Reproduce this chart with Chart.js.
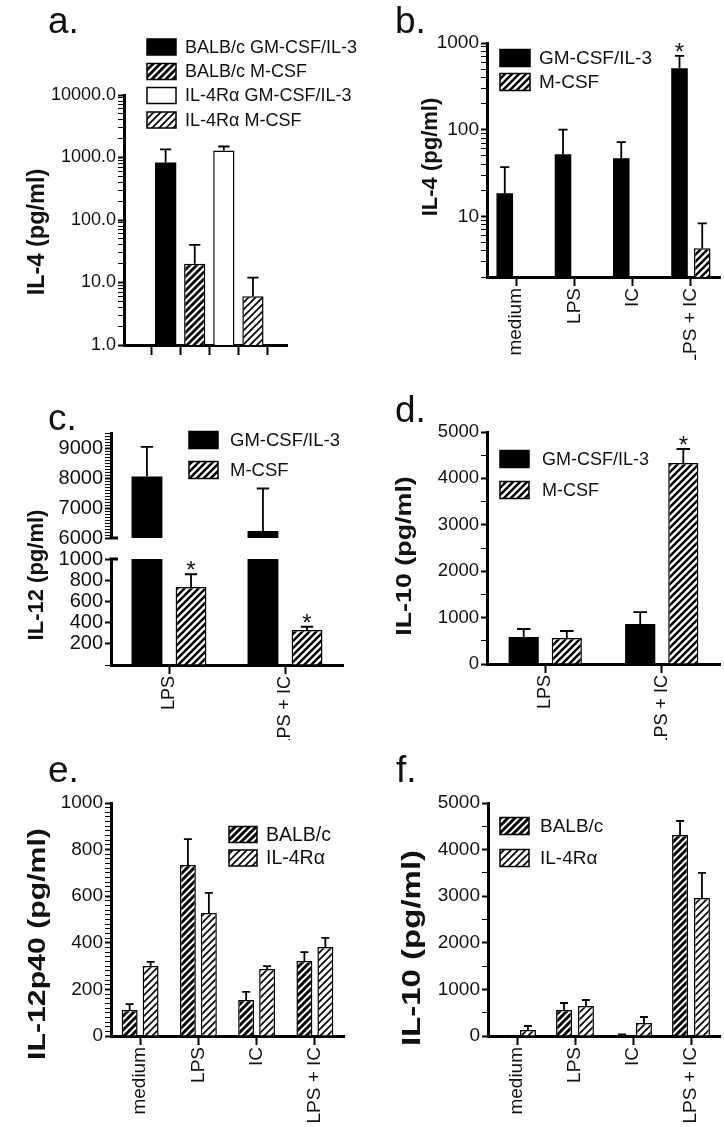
<!DOCTYPE html>
<html><head><meta charset="utf-8">
<script src="https://cdn.jsdelivr.net/npm/chart.js@4.4.1/dist/chart.umd.min.js"></script>
<style>
html,body{margin:0;padding:0;background:#fff}
body{width:724px;height:1127px;position:relative;overflow:hidden;font-family:Arial,"Liberation Sans",Helvetica,sans-serif}
canvas{position:absolute}
.lbl{position:absolute;font-size:37px;line-height:1;color:#111;z-index:5}
</style></head><body>
<canvas id="ca" width="362" height="360" style="left:0;top:0"></canvas>
<canvas id="cb" width="362" height="360" style="left:362px;top:0"></canvas>
<canvas id="cc1" width="362" height="200" style="left:0;top:360px"></canvas>
<canvas id="cc2" width="362" height="240" style="left:0;top:500px"></canvas>
<canvas id="cd" width="362" height="380" style="left:362px;top:360px"></canvas>
<canvas id="ce" width="362" height="387" style="left:0;top:740px"></canvas>
<canvas id="cf" width="362" height="387" style="left:362px;top:740px"></canvas>
<div class="lbl" style="left:48px;top:2px">a.</div>
<div class="lbl" style="left:395px;top:2px">b.</div>
<div class="lbl" style="left:48px;top:399px">c.</div>
<div class="lbl" style="left:395px;top:391px">d.</div>
<div class="lbl" style="left:48px;top:751px">e.</div>
<div class="lbl" style="left:396px;top:751px">f.</div>
<script>
// ---------------- DATA ----------------
// a. IL-4 (log)
const aCategories = ['BALB/c GM-CSF/IL-3', 'BALB/c M-CSF', 'IL-4R\u03b1 GM-CSF/IL-3', 'IL-4R\u03b1 M-CSF'];
const aValues = [830, 20, 1290, 6];
const aErrors = [520, 20, 210, 6];
const aTicks = [1, 10, 100, 1000, 10000];

// b. IL-4 (log)
const bCategories = ['medium', 'LPS', 'IC', 'LPS + IC'];
const bGM = [18.5, 52, 47, 510];
const bGMErr = [18.5, 48, 25, 200];
const bGMSig = [false, false, false, true];
const bM = [null, null, null, 4.3];
const bMErr = [null, null, null, 4.0];
const bTicks = [10, 100, 1000];

// c. IL-12 (broken axis)
const cCategories = ['LPS', 'LPS + IC'];
const cGM = [8050, 6230];
const cGMErr = [990, 1420];
const cM = [736, 331];
const cMErr = [120, 30];
const cMSig = [true, true];
const cTicksUpper = [6000, 7000, 8000, 9000];
const cTicksLower = [200, 400, 600, 800, 1000];

// d. IL-10
const dCategories = ['LPS', 'LPS + IC'];
const dGM = [582, 862];
const dGMErr = [172, 258];
const dM = [560, 4332];
const dMErr = [151, 302];
const dMSig = [false, true];
const dTicks = [0, 1000, 2000, 3000, 4000, 5000];

// e. IL-12p40
const eCategories = ['medium', 'LPS', 'IC', 'LPS + IC'];
const eBALB = [112, 734, 155, 322];
const eBALBErr = [25, 111, 34, 38];
const eIL4R = [300, 528, 288, 382];
const eIL4RErr = [18, 86, 12, 39];
const eTicks = [0, 200, 400, 600, 800, 1000];

// f. IL-10
const fCategories = ['medium', 'LPS', 'IC', 'LPS + IC'];
const fBALB = [5, 558, 25, 4313];
const fBALBErr = [0, 150, 10, 301];
const fIL4R = [130, 644, 280, 2960];
const fIL4RErr = [85, 129, 128, 540];
const fTicks = [0, 1000, 2000, 3000, 4000, 5000];

// ---------------- SETUP ----------------
const FONT = 'Arial, "Liberation Sans", Helvetica, sans-serif';
Chart.defaults.font.family = FONT;
Chart.defaults.color = '#111';
Chart.defaults.animation = false;
Chart.defaults.events = [];
Chart.defaults.plugins.legend.display = false;
Chart.defaults.plugins.tooltip.enabled = false;

function makeHatch(ctx, lw) {
  const p = 7;
  const t = document.createElement('canvas'); t.width = p; t.height = p;
  const g = t.getContext('2d');
  g.fillStyle = '#fff'; g.fillRect(0, 0, p, p);
  g.strokeStyle = '#000'; g.lineWidth = lw;
  g.beginPath();
  g.moveTo(-1, p + 1); g.lineTo(p + 1, -1);
  g.moveTo(-p / 2 - 1, p / 2 + 1); g.lineTo(p / 2 + 1, -p / 2 - 1);
  g.moveTo(p / 2 - 1, 1.5 * p + 1); g.lineTo(1.5 * p + 1, p / 2 - 1);
  g.stroke();
  return ctx.createPattern(t, 'repeat');
}

const errorBars = {
  id: 'errorBars',
  afterDatasetsDraw(chart, args, o) {
    const c = chart.ctx, a = chart.chartArea;
    const capR = (o && o.cap) || 0.5;
    chart.data.datasets.forEach((ds, i) => {
      if (!ds.errors) return;
      const meta = chart.getDatasetMeta(i);
      const ys = chart.scales[meta.yAxisID];
      meta.data.forEach((el, j) => {
        const raw = ds.data[j];
        const v = raw && typeof raw === 'object' ? raw.y : raw;
        const e = ds.errors[j];
        if (v == null || e == null) return;
        const yt = ys.getPixelForValue(v + e);
        if (e > 0) {
          c.save();
          c.beginPath(); c.rect(0, a.top - 2, chart.width, a.bottom - a.top + 2); c.clip();
          c.strokeStyle = '#000'; c.lineWidth = 1.8;
          const hw = el.width * capR / 2;
          c.beginPath();
          c.moveTo(el.x, el.y); c.lineTo(el.x, yt);
          c.moveTo(el.x - hw, yt); c.lineTo(el.x + hw, yt);
          c.stroke();
          c.restore();
        }
        if (ds.sig && ds.sig[j] && yt >= a.top - 2 && yt <= a.bottom) {
          c.save(); c.fillStyle = '#111'; c.font = '24px ' + FONT;
          c.textAlign = 'center'; c.textBaseline = 'alphabetic';
          c.fillText('*', el.x, yt + 4); c.restore();
        }
      });
    });
  }
};

const boxLegend = {
  id: 'boxLegend',
  afterDraw(chart, args, o) {
    if (!o || !o.ys) return;
    const c = chart.ctx;
    c.save();
    chart.data.datasets.forEach((d, i) => {
      const y = o.ys[i];
      if (y == null) return;
      c.fillStyle = d.backgroundColor;
      c.fillRect(o.x, y - o.h / 2, o.w, o.h);
      c.lineWidth = 1.5; c.strokeStyle = '#000';
      c.strokeRect(o.x, y - o.h / 2, o.w, o.h);
      c.fillStyle = '#111'; c.font = o.size + 'px ' + FONT;
      c.textAlign = 'left'; c.textBaseline = 'middle';
      c.fillText(d.label, o.textX, y + 1);
    });
    c.restore();
  }
};

const axisTitle = {
  id: 'axisTitle',
  afterDraw(chart, args, o) {
    if (!o || !o.label) return;
    const c = chart.ctx;
    c.save();
    c.translate(o.x, o.y); c.rotate(-Math.PI / 2); c.scale(o.stretch || 1, 1);
    c.font = 'bold ' + o.size + 'px ' + FONT; c.fillStyle = '#111';
    c.textAlign = 'center'; c.textBaseline = 'middle';
    c.fillText(o.label, 0, 0);
    c.restore();
  }
};

const breakMark = {
  id: 'breakMark',
  afterDraw(chart, args, o) {
    if (!o || !o.where) return;
    const a = chart.chartArea, c = chart.ctx;
    const y = o.where === 'top' ? a.top : a.bottom;
    c.save(); c.strokeStyle = '#000'; c.lineWidth = 3;
    c.beginPath(); c.moveTo(a.left - 1.5, y); c.lineTo(a.left + 7, y); c.stroke();
    c.restore();
  }
};
Chart.register(errorBars, boxLegend, axisTitle, breakMark);

function yLinear(min, max, step, labels, width, size) {
  return {
    type: 'linear', min: min, max: max,
    afterBuildTicks: s => { const t = []; for (let v = min; v <= max + 1e-9; v += step) t.push({ value: v }); s.ticks = t; },
    afterFit: s => { s.width = width; },
    ticks: { autoSkip: false, padding: 2, color: '#111', font: { size: size }, callback: v => labels.includes(v) ? String(v) : '' },
    grid: { drawOnChartArea: false, drawTicks: true, tickLength: 6, color: '#000',
      tickWidth: c => (c.tick && labels.includes(c.tick.value)) ? 2 : 1 },
    border: { display: true, color: '#000', width: 3 }
  };
}
function yLog(min, max, labels, width, size, fmt) {
  return {
    type: 'logarithmic', min: min, max: max,
    afterBuildTicks: s => {
      const t = [];
      for (let e = Math.floor(Math.log10(min)); e <= Math.round(Math.log10(max)); e++)
        for (let k = 1; k < 10; k++) { const v = k * Math.pow(10, e); if (v >= min - 1e-9 && v <= max + 1e-9) t.push({ value: v }); }
      s.ticks = t;
    },
    afterFit: s => { s.width = width; },
    ticks: { autoSkip: false, padding: 2, color: '#111', font: { size: size }, callback: v => labels.includes(v) ? fmt(v) : '' },
    grid: { drawOnChartArea: false, drawTicks: true, tickLength: 6, color: '#000',
      tickWidth: c => (c.tick && labels.includes(c.tick.value)) ? 2 : 1 },
    border: { display: true, color: '#000', width: 3 }
  };
}
function xCat(height, size) {
  return {
    type: 'category', offset: true,
    afterFit: s => { s.height = height; },
    ticks: { autoSkip: false, minRotation: 90, maxRotation: 90, padding: 2, color: '#111', font: { size: size } },
    grid: { drawOnChartArea: false, drawTicks: true, tickLength: 9, offset: false, color: '#000', tickWidth: 2 },
    border: { display: true, color: '#000', width: 3 }
  };
}
function barDs(label, data, errors, fill, bw, cp, bp, sig) {
  return { label: label, data: data, errors: errors, sig: sig, backgroundColor: fill,
    borderColor: '#000', borderWidth: bw, categoryPercentage: cp, barPercentage: bp, clip: 0 };
}

// ---------------- a ----------------
(function () {
  const ctx = document.getElementById('ca').getContext('2d');
  const fills = ['#000', makeHatch(ctx, 2.8), '#fff', makeHatch(ctx, 1.7)];
  const widths = [0, 1.5, 1.5, 1.5];
  new Chart(ctx, {
    type: 'bar',
    data: { datasets: aCategories.map((lab, i) => Object.assign(
      barDs(lab, [{ x: i, y: aValues[i] }], [aErrors[i]], fills[i], widths[i], 1, 0.73), { grouped: false })) },
    options: {
      responsive: false,
      layout: { padding: { left: 0, top: 95, right: 75, bottom: 0 } },
      plugins: {
        errorBars: { cap: 0.53 },
        boxLegend: { x: 147, w: 29, h: 16, ys: [47, 71.5, 95.5, 120], textX: 185, size: 18 },
        axisTitle: { label: 'IL-4 (pg/ml)', x: 38, y: 232, size: 23.5 }
      },
      scales: {
        x: { type: 'linear', min: -0.73, max: 3.47,
          afterBuildTicks: s => { s.ticks = aCategories.map((_, i) => ({ value: i })); },
          afterFit: s => { s.height = 15; },
          ticks: { display: false },
          grid: { drawOnChartArea: false, drawTicks: true, tickLength: 10, color: '#000', tickWidth: 2 },
          border: { display: true, color: '#000', width: 3 } },
        y: yLog(1, 10000, aTicks, 124, 18, v => v.toFixed(1))
      }
    }
  });
})();

// ---------------- b ----------------
(function () {
  const ctx = document.getElementById('cb').getContext('2d');
  new Chart(ctx, {
    type: 'bar',
    data: { labels: bCategories, datasets: [
      barDs('GM-CSF/IL-3', bGM, bGMErr, '#000', 0, 0.78, 0.73, bGMSig),
      barDs('M-CSF', bM, bMErr, makeHatch(ctx, 2.5), 1.5, 0.78, 0.73)
    ] },
    options: {
      responsive: false,
      layout: { padding: { left: 0, top: 43, right: 4, bottom: 0 } },
      plugins: {
        errorBars: { cap: 0.55 },
        boxLegend: { x: 138, w: 30, h: 17, ys: [58, 82], textX: 177, size: 19 },
        axisTitle: { label: 'IL-4 (pg/ml)', x: 69, y: 157, size: 22 }
      },
      scales: { x: xCat(83, 19), y: yLog(2, 1000, bTicks, 125, 19, v => String(v)) }
    }
  });
})();

// ---------------- c (upper) ----------------
(function () {
  const ctx = document.getElementById('cc1').getContext('2d');
  new Chart(ctx, {
    type: 'bar',
    data: { labels: cCategories, datasets: [
      barDs('GM-CSF/IL-3', cGM, cGMErr, '#000', 0, 0.76, 0.7),
      barDs('M-CSF', cM, cMErr, makeHatch(ctx, 2.5), 1.5, 0.76, 0.7, cMSig)
    ] },
    options: {
      responsive: false,
      layout: { padding: { left: 0, top: 73, right: 19, bottom: 22 } },
      plugins: {
        errorBars: { cap: 0.4 },
        boxLegend: { x: 189, w: 29, h: 17, ys: [80, 110], textX: 230, size: 18.5 },
        breakMark: { where: 'bottom' }
      },
      scales: { x: { type: 'category', offset: true, display: false },
        y: yLinear(6000, 9500, 100, cTicksUpper, 111, 20) }
    }
  });
})();
// ---------------- c (lower) ----------------
(function () {
  const ctx = document.getElementById('cc2').getContext('2d');
  new Chart(ctx, {
    type: 'bar',
    data: { labels: cCategories, datasets: [
      barDs('GM-CSF/IL-3', cGM, cGMErr, '#000', 0, 0.76, 0.7),
      barDs('M-CSF', cM, cMErr, makeHatch(ctx, 2.5), 1.5, 0.76, 0.7, cMSig)
    ] },
    options: {
      responsive: false,
      layout: { padding: { left: 0, top: 59, right: 19, bottom: 0 } },
      plugins: {
        errorBars: { cap: 0.4 },
        axisTitle: { label: 'IL-12 (pg/ml)', x: 37, y: 75, size: 22 },
        breakMark: { where: 'top' }
      },
      scales: { x: xCat(75, 18), y: yLinear(0, 1000, 200, cTicksLower, 111, 20) }
    }
  });
})();

// ---------------- d ----------------
(function () {
  const ctx = document.getElementById('cd').getContext('2d');
  new Chart(ctx, {
    type: 'bar',
    data: { labels: dCategories, datasets: [
      barDs('GM-CSF/IL-3', dGM, dGMErr, '#000', 0, 0.74, 0.7),
      barDs('M-CSF', dM, dMErr, makeHatch(ctx, 2.5), 1.5, 0.74, 0.7, dMSig)
    ] },
    options: {
      responsive: false,
      layout: { padding: { left: 0, top: 72, right: 4, bottom: 0 } },
      plugins: {
        errorBars: { cap: 0.45 },
        boxLegend: { x: 138, w: 29, h: 17, ys: [99, 130], textX: 180, size: 18 },
        axisTitle: { label: 'IL-10 (pg/ml)', x: 43, y: 196, size: 22, stretch: 1.22 }
      },
      scales: { x: xCat(76, 18), y: yLinear(0, 5000, 500, dTicks, 125, 18.5) }
    }
  });
})();

// ---------------- e ----------------
(function () {
  const ctx = document.getElementById('ce').getContext('2d');
  new Chart(ctx, {
    type: 'bar',
    data: { labels: eCategories, datasets: [
      barDs('BALB/c', eBALB, eBALBErr, makeHatch(ctx, 3.0), 1.5, 0.72, 0.76),
      barDs('IL-4R\u03b1', eIL4R, eIL4RErr, makeHatch(ctx, 1.7), 1.5, 0.72, 0.76)
    ] },
    options: {
      responsive: false,
      layout: { padding: { left: 0, top: 63, right: 18, bottom: 0 } },
      plugins: {
        errorBars: { cap: 0.5 },
        boxLegend: { x: 229, w: 28, h: 16, ys: [94.5, 118], textX: 266, size: 19.5 },
        axisTitle: { label: 'IL-12p40 (pg/ml)', x: 38, y: 204, size: 24, stretch: 1.26 }
      },
      scales: { x: xCat(91, 19), y: yLinear(0, 1000, 20, eTicks, 111, 19) }
    }
  });
})();

// ---------------- f ----------------
(function () {
  const ctx = document.getElementById('cf').getContext('2d');
  new Chart(ctx, {
    type: 'bar',
    data: { labels: fCategories, datasets: [
      barDs('BALB/c', fBALB, fBALBErr, makeHatch(ctx, 3.0), 1.5, 0.755, 0.73),
      barDs('IL-4R\u03b1', fIL4R, fIL4RErr, makeHatch(ctx, 1.7), 1.5, 0.755, 0.73)
    ] },
    options: {
      responsive: false,
      layout: { padding: { left: 0, top: 63, right: 4, bottom: 0 } },
      plugins: {
        errorBars: { cap: 0.5 },
        boxLegend: { x: 138, w: 29, h: 17, ys: [86, 118], textX: 178, size: 19 },
        axisTitle: { label: 'IL-10 (pg/ml)', x: 51, y: 208, size: 25, stretch: 1.32 }
      },
      scales: { x: xCat(91, 19), y: yLinear(0, 5000, 500, fTicks, 126, 19) }
    }
  });
})();
</script>
</body></html>
